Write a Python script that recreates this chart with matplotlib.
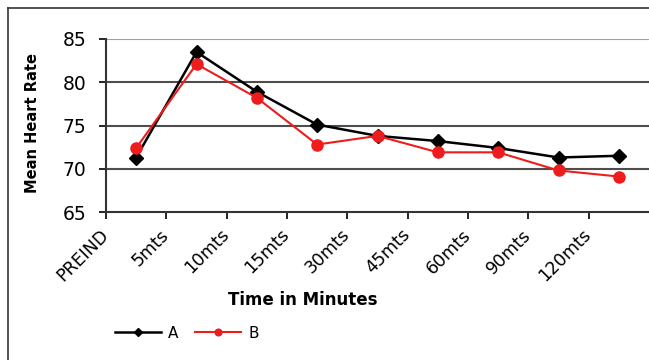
import numpy as np
import matplotlib as mpl
mpl.use('Agg')
import matplotlib.pyplot as plt
from matplotlib.lines import Line2D
from matplotlib.transforms import ScaledTranslation

times = ['PREIND', '5mts', '10mts', '15mts', '30mts', '45mts', '60mts', '90mts', '120mts']
grp_a = [71.3, 83.5, 78.9, 75.1, 73.8, 73.2, 72.4, 71.3, 71.5]
grp_b = [72.4, 82.1, 78.2, 72.8, 73.8, 71.9, 71.9, 69.8, 69.1]

plt.rcParams['font.family'] = 'DejaVu Sans'

fig = plt.figure(figsize=(6.49, 3.6), dpi=100)
ax = fig.add_axes([106/649, 1-212/360, 1-106/649, (212-39)/360])

x = np.arange(len(times))
ax.plot(x, grp_a, color='black', lw=1.8, marker='D', ms=7.5, label='A', zorder=3)
ax.plot(x, grp_b, color='#ee1c1c', lw=1.5, marker='o', ms=8, label='B', zorder=4)

ax.set_xlim(-0.5, 8.5)
ax.set_ylim(65, 85)
ax.set_yticks([65, 70, 75, 80, 85])
ax.set_xticks(x - 0.5)
ax.set_xticklabels(times, rotation=45, ha='right', fontsize=12.5)
ax.tick_params(axis='y', labelsize=13.5, length=5, width=1.2, pad=9)
ax.tick_params(axis='x', length=5, width=1.2, pad=2)
shift = ScaledTranslation(6/100, -4/100, fig.dpi_scale_trans)
for lab in ax.get_xticklabels():
    lab.set_transform(lab.get_transform() + shift)

for v in [70, 75, 80]:
    ax.axhline(v, color='#4d4d4d', lw=1.5, zorder=1)
ax.axhline(85, color='#a0a0a0', lw=1.5, zorder=1)

for s in ['top', 'right']:
    ax.spines[s].set_visible(False)
for s in ['left', 'bottom']:
    ax.spines[s].set_linewidth(1.5)
    ax.spines[s].set_color('#333333')

fig.text(303/649, 1-300/360, 'Time in Minutes', fontsize=12, fontweight='bold',
         ha='center', va='center')
fig.text(33/649, 1-123/360, 'Mean Heart Rate', fontsize=10.5, fontweight='bold',
         rotation=90, ha='center', va='center')

h, l = ax.get_legend_handles_labels()
leg = fig.legend(h, l, loc='center left', bbox_to_anchor=(101/649, 1-333/360), ncol=2,
                 frameon=False, fontsize=11, handlelength=3.0, handletextpad=0.5,
                 columnspacing=1.1, markerscale=0.6)

# outer frame
fig.add_artist(Line2D([8/649, 8/649], [0, 1-8/360], color='#333333', lw=1.2))
fig.add_artist(Line2D([8/649, 1], [1-8/360, 1-8/360], color='#333333', lw=1.2))

plt.savefig('out.png', dpi=100)
plt.close()
